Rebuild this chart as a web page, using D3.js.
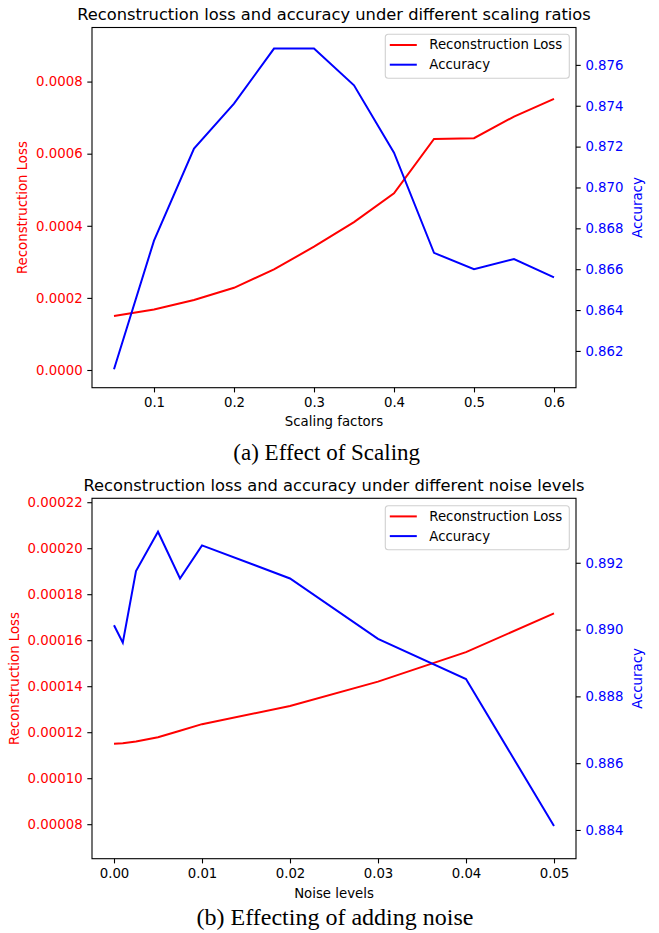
<!DOCTYPE html>
<html>
<head>
<meta charset="utf-8">
<script src="https://cdn.jsdelivr.net/npm/d3@7"></script>
<style>
body { margin: 0; background: white; }
svg text { font-family: "DejaVu Sans", sans-serif; }
.caption { font-family: "Liberation Serif", "Times New Roman", serif !important; }
</style>
</head>
<body>
<script>
const width = 659
const height = 933

// (a) scaling
const scaleFactors = [0.05, 0.1, 0.15, 0.2, 0.25, 0.3, 0.35, 0.4, 0.45, 0.5, 0.55, 0.6]
const scaleLoss = [0.000150, 0.000168, 0.000194, 0.000228, 0.000279, 0.000342, 0.000410, 0.000490, 0.000641, 0.000643, 0.000703, 0.000752]
const scaleAcc = [0.8611, 0.8674, 0.8719, 0.8741, 0.8768, 0.8768, 0.8750, 0.8717, 0.8668, 0.8660, 0.8665, 0.8656]
const scaleXTicks = [0.1, 0.2, 0.3, 0.4, 0.5, 0.6]
const scaleLossTicks = [0, 0.0002, 0.0004, 0.0006, 0.0008]
const scaleAccTicks = [0.862, 0.864, 0.866, 0.868, 0.870, 0.872, 0.874, 0.876]

// (b) noise
const noiseLevels = [0, 0.001, 0.0025, 0.005, 0.0075, 0.01, 0.02, 0.03, 0.04, 0.05]
const noiseLoss = [0.0001150, 0.0001152, 0.0001160, 0.0001178, 0.0001206, 0.0001235, 0.0001314, 0.0001420, 0.0001548, 0.0001717]
const noiseAcc = [0.89013, 0.88961, 0.89175, 0.89293, 0.89153, 0.89252, 0.89153, 0.88972, 0.88852, 0.88412]
const noiseXTicks = [0, 0.01, 0.02, 0.03, 0.04, 0.05]
const noiseLossTicks = [0.00008, 0.00010, 0.00012, 0.00014, 0.00016, 0.00018, 0.00020, 0.00022]
const noiseAccTicks = [0.884, 0.886, 0.888, 0.890, 0.892]

const fontSize = 13.3
const tickLen = 4.7

const svg = d3.select("body").append("svg")
    .attr("width", width)
    .attr("height", height)

function drawPanel(p) {
    const x = d3.scaleLinear().domain(p.xDomain).range([p.left, p.right])
    const yL = d3.scaleLinear().domain(p.lossDomain).range([p.bottom, p.top])
    const yR = d3.scaleLinear().domain(p.accDomain).range([p.bottom, p.top])
    const g = svg.append("g")

    // axes
    const xAxis = g.append("g")
        .attr("transform", `translate(0,${p.bottom})`)
        .call(d3.axisBottom(x).tickValues(p.xTicks).tickFormat(d3.format(p.xFmt)).tickSizeOuter(0).tickSize(tickLen).tickPadding(4.7))
    const yAxisL = g.append("g")
        .attr("transform", `translate(${p.left},0)`)
        .call(d3.axisLeft(yL).tickValues(p.lossTicks).tickFormat(d3.format(p.lossFmt)).tickSizeOuter(0).tickSize(tickLen).tickPadding(4.7))
    const yAxisR = g.append("g")
        .attr("transform", `translate(${p.right},0)`)
        .call(d3.axisRight(yR).tickValues(p.accTicks).tickFormat(d3.format(".3f")).tickSizeOuter(0).tickSize(tickLen).tickPadding(4.7))
    for (const ax of [xAxis, yAxisL, yAxisR]) {
        ax.select(".domain").remove()
        ax.selectAll(".tick line").attr("stroke", "black").attr("stroke-width", 1.1)
        ax.selectAll(".tick text").attr("font-size", fontSize).attr("font-family", "DejaVu Sans")
    }
    xAxis.selectAll(".tick text").attr("fill", "black")
    yAxisL.selectAll(".tick text").attr("fill", "red")
    yAxisR.selectAll(".tick text").attr("fill", "blue")

    const clipId = "clip" + p.id
    svg.append("clipPath").attr("id", clipId)
        .append("rect").attr("x", p.left).attr("y", p.top)
        .attr("width", p.right - p.left).attr("height", p.bottom - p.top)

    g.append("path")
        .datum(p.xs.map((v, i) => [v, p.loss[i]]))
        .attr("clip-path", `url(#${clipId})`)
        .attr("fill", "none").attr("stroke", "red").attr("stroke-width", 2)
        .attr("d", d3.line().x(d => x(d[0])).y(d => yL(d[1])))
    g.append("path")
        .datum(p.xs.map((v, i) => [v, p.acc[i]]))
        .attr("clip-path", `url(#${clipId})`)
        .attr("fill", "none").attr("stroke", "blue").attr("stroke-width", 2)
        .attr("d", d3.line().x(d => x(d[0])).y(d => yR(d[1])))

    // frame
    g.append("rect")
        .attr("x", p.left).attr("y", p.top)
        .attr("width", p.right - p.left).attr("height", p.bottom - p.top)
        .attr("fill", "none").attr("stroke", "black").attr("stroke-width", 1.1)

    // title & labels
    g.append("text")
        .attr("x", (p.left + p.right) / 2).attr("y", p.titleY)
        .attr("text-anchor", "middle").attr("font-size", 16.3).attr("fill", "black")
        .text(p.title)
    g.append("text")
        .attr("x", (p.left + p.right) / 2).attr("y", p.xLabelY)
        .attr("text-anchor", "middle").attr("font-size", fontSize).attr("fill", "black")
        .text(p.xLabel)
    g.append("text")
        .attr("transform", `translate(${p.lossLabelX},${(p.top + p.bottom) / 2}) rotate(-90)`)
        .attr("text-anchor", "middle").attr("dominant-baseline", "central")
        .attr("font-size", fontSize).attr("fill", "red")
        .text("Reconstruction Loss")
    g.append("text")
        .attr("transform", `translate(${p.accLabelX},${(p.top + p.bottom) / 2}) rotate(-90)`)
        .attr("text-anchor", "middle").attr("dominant-baseline", "central")
        .attr("font-size", fontSize).attr("fill", "blue")
        .text("Accuracy")

    // legend
    const lg = g.append("g").attr("transform", `translate(${p.legendX},${p.legendY})`)
    lg.append("rect")
        .attr("x", 0).attr("y", 0).attr("width", 184).attr("height", 44)
        .attr("rx", 3).attr("fill", "white").attr("fill-opacity", 0.8)
        .attr("stroke", "#d0d0d0").attr("stroke-width", 1.1)
    const items = [{name: "Reconstruction Loss", color: "red"}, {name: "Accuracy", color: "blue"}]
    items.forEach((it, i) => {
        const cy = 10.7 + i * 19.7
        lg.append("line").attr("x1", 4.5).attr("x2", 31.5).attr("y1", cy).attr("y2", cy)
            .attr("stroke", it.color).attr("stroke-width", 2)
        lg.append("text").attr("x", 44).attr("y", cy).attr("dominant-baseline", "central")
            .attr("font-size", fontSize).attr("fill", "black").text(it.name)
    })

    svg.append("text")
        .attr("class", "caption")
        .attr("x", p.captionX).attr("y", p.captionY)
        .attr("text-anchor", "middle").attr("font-size", p.captionSize).attr("fill", "black")
        .text(p.caption)
}

drawPanel({
    id: "a",
    left: 92, right: 576, top: 27.5, bottom: 387.7,
    xDomain: [0.0225, 0.6275],
    lossDomain: [-0.0000491, 0.00095],
    accDomain: [0.8602, 0.87783],
    xTicks: scaleXTicks, lossTicks: scaleLossTicks, accTicks: scaleAccTicks,
    xFmt: ".1f", lossFmt: ".4f",
    xs: scaleFactors, loss: scaleLoss, acc: scaleAcc,
    title: "Reconstruction loss and accuracy under different scaling ratios",
    titleY: 19.5,
    xLabel: "Scaling factors", xLabelY: 426,
    lossLabelX: 22, accLabelX: 637,
    legendX: 385.3, legendY: 34.3,
    caption: "(a) Effect of Scaling", captionX: 326.7, captionY: 460, captionSize: 23
})

drawPanel({
    id: "b",
    left: 92, right: 576, top: 498.3, bottom: 858.7,
    xDomain: [-0.0025, 0.0525],
    lossDomain: [0.000065, 0.0002217],
    accDomain: [0.88314, 0.89393],
    xTicks: noiseXTicks, lossTicks: noiseLossTicks, accTicks: noiseAccTicks,
    xFmt: ".2f", lossFmt: ".5f",
    xs: noiseLevels, loss: noiseLoss, acc: noiseAcc,
    title: "Reconstruction loss and accuracy under different noise levels",
    titleY: 490.5,
    xLabel: "Noise levels", xLabelY: 898,
    lossLabelX: 14, accLabelX: 637,
    legendX: 385.3, legendY: 505.7,
    caption: "(b) Effecting of adding noise", captionX: 335, captionY: 925, captionSize: 24
})
</script>
</body>
</html>
